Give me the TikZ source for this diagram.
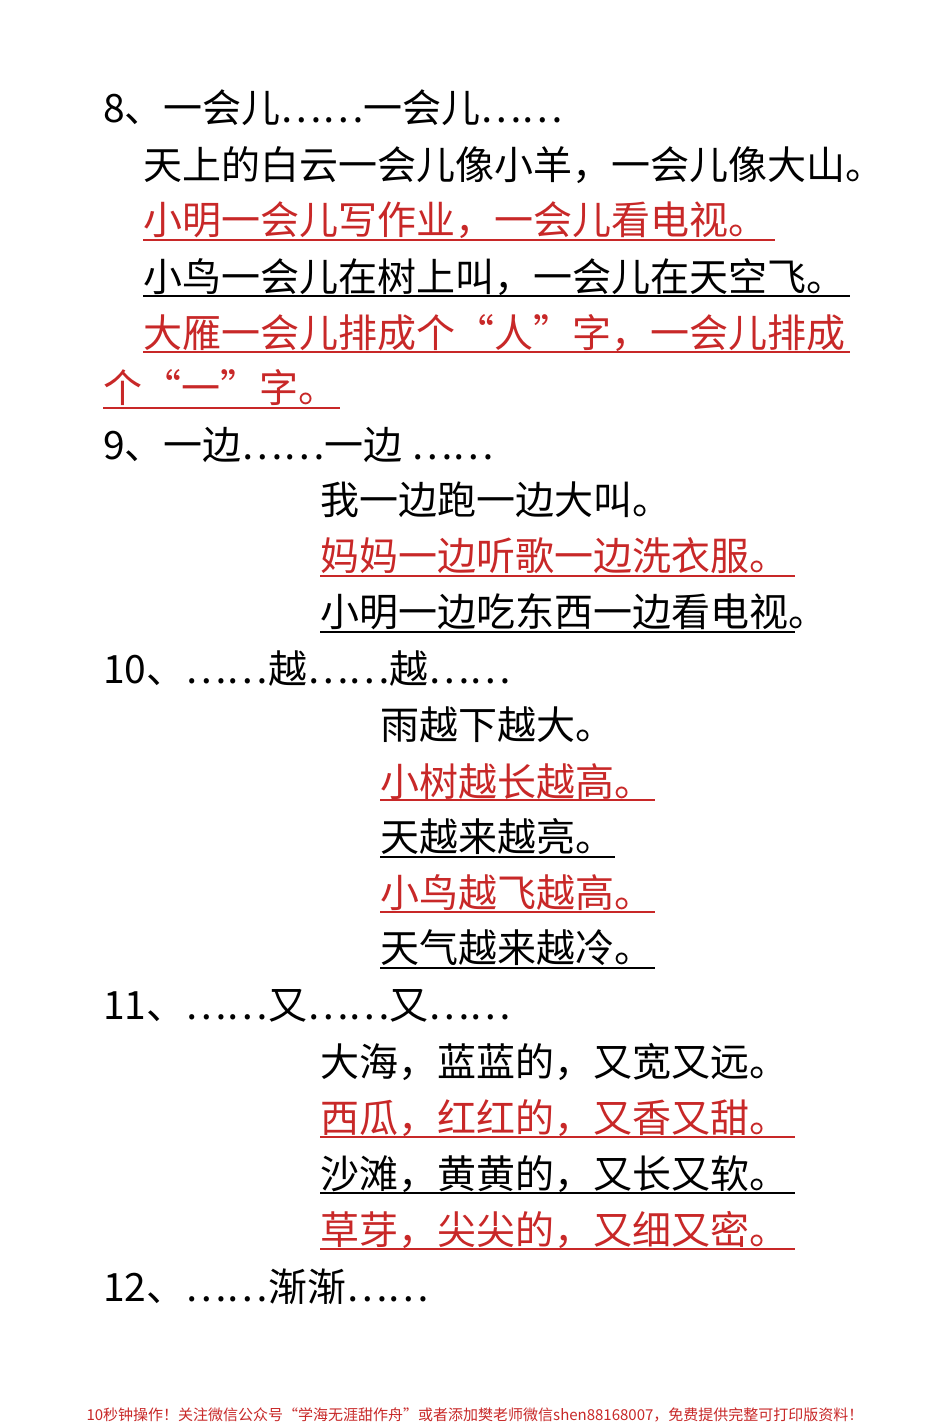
\documentclass[tikz,border=0pt]{standalone}
\usepackage{fontspec}
\setmainfont{Noto Sans CJK SC}
\newfontfamily\fw[RawFeature=+fwid]{Noto Sans CJK SC}
\newcommand{\dd}{{\fw ……}}
\definecolor{myred}{RGB}{200,40,40}
\tikzset{t/.style={anchor=west,inner sep=0pt,font=\fontsize{39}{39}\selectfont},
 r/.style={t,text=myred},
 ul/.style={line width=1.6pt},
 ulr/.style={ul,draw=myred}}
\begin{document}
\begin{tikzpicture}[x=1pt,y=-1pt]
\useasboundingbox[fill=white] (0,0) rectangle (950,1426);
\node[t] (h8) at (103,108) {8、一会儿\dd 一会儿\dd};
\node[t] (a1) at (143,165) {天上的白云一会儿像小羊，一会儿像大山。};
\node[r] (a2) at (143,220) {小明一会儿写作业，一会儿看电视。};
\node[t] (a3) at (143,277) {小鸟一会儿在树上叫，一会儿在天空飞。};
\node[r] (a4) at (143,333) {大雁一会儿排成个“人”字，一会儿排成};
\node[r] (a5) at (103,388) {个“一”字。};
\draw[ulr] (143,240)--(775,240);
\draw[ul] (143,296)--(850,296);
\draw[ulr] (143,352)--(850,352);
\draw[ulr] (103,408)--(340,408);
\node[t] (h9) at (103,445) {9、一边\dd 一边 \dd};
\node[t] (b1) at (320,500) {我一边跑一边大叫。};
\node[r] (b2) at (320,556) {妈妈一边听歌一边洗衣服。};
\node[t] (b3) at (320,612) {小明一边吃东西一边看电视。};
\draw[ulr] (320,576)--(795,576);
\draw[ul] (320,632)--(795,632);
\node[t] (h10) at (103,669) {10、\dd 越\dd 越\dd};
\node[t] (c1) at (380,725) {雨越下越大。};
\node[r] (c2) at (380,782) {小树越长越高。};
\node[t] (c3) at (380,837) {天越来越亮。};
\node[r] (c4) at (380,893) {小鸟越飞越高。};
\node[t] (c5) at (380,948) {天气越来越冷。};
\draw[ulr] (380,800)--(655,800);
\draw[ul] (380,857)--(615,857);
\draw[ulr] (380,912)--(655,912);
\draw[ul] (380,968)--(655,968);
\node[t] (h11) at (103,1006) {11、\dd 又\dd 又\dd};
\node[t] (d1) at (320,1062) {大海，蓝蓝的，又宽又远。};
\node[r] (d2) at (320,1118) {西瓜，红红的，又香又甜。};
\node[t] (d3) at (320,1174) {沙滩，黄黄的，又长又软。};
\node[r] (d4) at (320,1230) {草芽，尖尖的，又细又密。};
\draw[ulr] (320,1137)--(795,1137);
\draw[ul] (320,1193)--(795,1193);
\draw[ulr] (320,1249)--(795,1249);
\node[t] (h12) at (103,1287) {12、\dd 渐渐\dd};
\node[anchor=center,inner sep=0pt,text=myred,font=\fontsize{15}{15}\selectfont] (ft) at (475,1415) {10秒钟操作！关注微信公众号“学海无涯甜作舟”或者添加樊老师微信shen88168007，免费提供完整可打印版资料！};
\end{tikzpicture}
\end{document}
